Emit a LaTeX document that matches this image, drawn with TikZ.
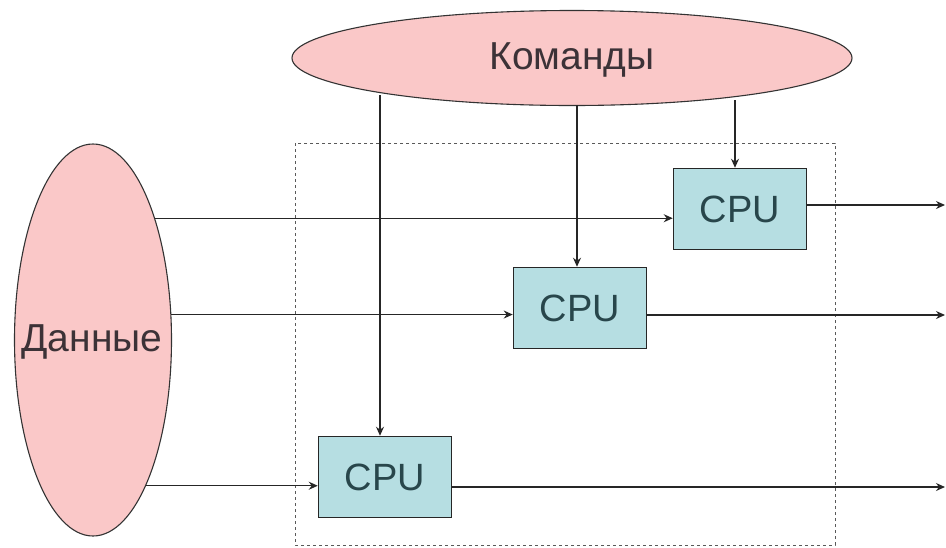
\documentclass[tikz,border=0pt]{standalone}
\usepackage{fontspec}
\setmainfont{Liberation Sans}
\usetikzlibrary{shapes.geometric,arrows.meta}
\definecolor{pinkfill}{RGB}{250,200,200}
\definecolor{cpufill}{RGB}{182,222,226}
\definecolor{txt}{RGB}{60,50,55}
\definecolor{cputxt}{RGB}{40,70,75}
\tikzset{
  blob/.style={ellipse, draw=black!80, line width=1.1pt, fill=pinkfill, inner sep=0pt},
  lbl/.style={font=\fontsize{39}{41}\selectfont, text=txt, inner sep=0pt},
  cpubox/.style={rectangle, draw=black!85, line width=1.5pt, fill=cpufill, minimum width=133pt, minimum height=81pt, inner sep=0pt, font=\fontsize{38}{40}\selectfont, text=cputxt},
  conn/.style={line width=1.3pt, draw=black!85, -{Stealth[length=9pt,width=8pt]}},
  frame/.style={draw=black!65, line width=1pt, dash pattern=on 3pt off 3pt}
}
\begin{document}
\begin{tikzpicture}[x=1pt,y=-1pt]
\useasboundingbox (0,0) rectangle (946,547);
\fill[white] (0,0) rectangle (946,547);
\draw[frame] (295,143) rectangle (835,545);
\node[blob, minimum width=560pt, minimum height=95pt] (cmd) at (572,58) {};
\node[lbl] (cmdtxt) at (572,60) {Команды};
\node[blob, minimum width=157pt, minimum height=392pt] (data) at (93,340) {};
\node[lbl] (datatxt) at (92,342) {Данные};
\node[cpubox] (c1) at (740,209) {CPU};
\node[cpubox] (c2) at (580,308) {CPU};
\node[cpubox] (c3) at (385,477) {CPU};
\coordinate (o1) at (945,205);
\coordinate (o2) at (945,315);
\coordinate (o3) at (945,487);
% data to CPUs
\draw[conn] (data.63) -- (c1.west |- data.63);
\draw[conn] (data.18) -- (c2.west |- data.18);
\draw[conn] (data.-70) -- (c3.west |- data.-70);
% commands to CPUs
\draw[conn] (735,100) -- (c1.north -| 735,0);
\draw[conn] (577,105) -- (c2.north -| 577,0);
\draw[conn] (380,95) -- (c3.north -| 380,0);
% outputs
\draw[conn] (c1.east |- o1) -- (o1);
\draw[conn] (c2.east |- o2) -- (o2);
\draw[conn] (c3.east |- o3) -- (o3);
\end{tikzpicture}
\end{document}
